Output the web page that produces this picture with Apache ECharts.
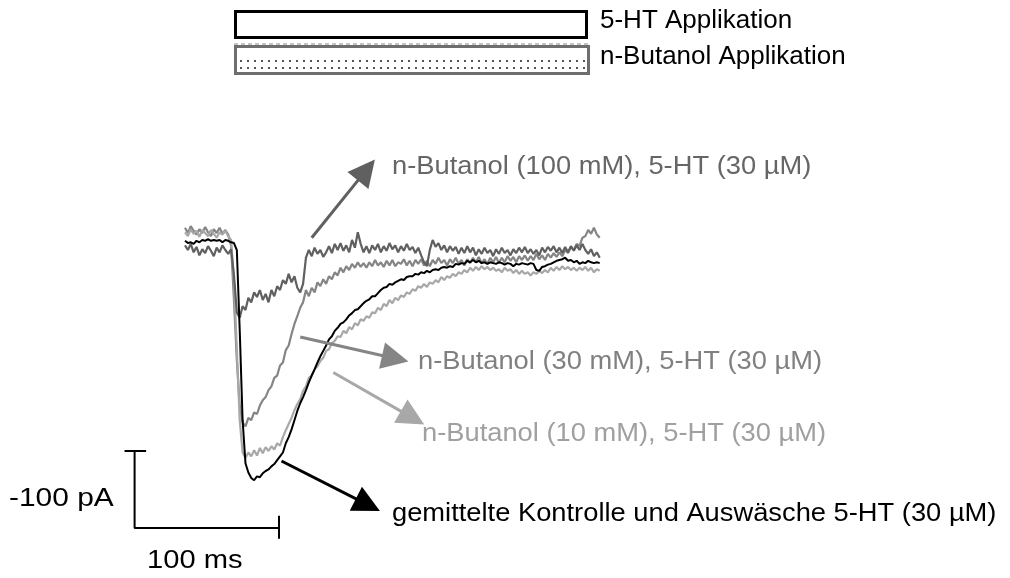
<!DOCTYPE html>
<html>
<head>
<meta charset="utf-8">
<script src="https://cdn.jsdelivr.net/npm/echarts@6/dist/echarts.min.js"></script>
<style>
  html, body { margin: 0; padding: 0; background: #fff; }
  #chart { width: 1010px; height: 578px; }
</style>
</head>
<body>
<div id="chart"></div>
<script>
// sample spacing of the traces (ms)
var timeStep = 2

// current traces in pA, one value every 2 ms
var control = [-1, -4, -3, -5, -1, -3, 0, -1, 1, -1, 0, -1, 0, -3, 0, -1, -3, -4, -13, -117,
  -234, -290, -302, -309, -312, -307, -308, -303, -300, -298, -294, -291, -286, -281, -276, -264, -256, -246, -234, -222,
  -212, -204, -195, -185, -176, -168, -159, -151, -144, -137, -129, -125, -118, -114, -109, -107, -103, -98, -95, -91,
  -90, -86, -82, -79, -77, -73, -73, -69, -65, -62, -61, -57, -58, -55, -53, -51, -52, -48, -47, -47,
  -44, -45, -42, -43, -40, -42, -39, -38, -39, -36, -35, -36, -34, -35, -31, -32, -30, -31, -27, -29,
  -26, -29, -27, -30, -29, -31, -29, -30, -31, -29, -30, -32, -30, -31, -34, -31, -32, -30, -31, -32,
  -30, -31, -39, -40, -35, -34, -32, -31, -29, -27, -26, -25, -23, -27, -26, -29, -27, -31, -29, -30,
  -27, -29, -30, -29, -30]

var butanol10 = [10, 5, 14, 8, 12, 4, 13, 9, 5, 13, 8, 3, 10, 7, 12, 5, 0, -52, -143, -234,
  -276, -283, -276, -281, -273, -280, -270, -277, -269, -274, -268, -272, -264, -267, -256, -247, -239, -231, -221, -213,
  -207, -196, -190, -179, -176, -168, -164, -157, -153, -144, -142, -134, -131, -125, -126, -118, -121, -113, -116, -108,
  -111, -103, -105, -99, -101, -94, -95, -88, -91, -83, -86, -78, -82, -75, -78, -72, -74, -68, -70, -64,
  -66, -60, -62, -57, -61, -55, -57, -52, -55, -48, -52, -47, -49, -44, -47, -42, -44, -39, -42, -36,
  -40, -35, -39, -34, -38, -35, -39, -36, -40, -38, -42, -36, -40, -38, -43, -39, -44, -40, -44, -42,
  -46, -42, -44, -40, -43, -39, -42, -36, -40, -35, -39, -34, -38, -35, -39, -36, -40, -36, -39, -35,
  -40, -36, -42, -38, -40]

var butanol30 = [16, 9, 18, 12, 7, 14, 9, 17, 10, 5, 14, 9, 16, 8, 13, 7, -7, -78, -156, -215,
  -237, -242, -231, -234, -224, -226, -215, -208, -204, -195, -190, -179, -176, -163, -159, -143, -137, -122, -109, -99,
  -88, -81, -65, -73, -62, -68, -55, -60, -51, -57, -47, -51, -42, -46, -36, -42, -34, -39, -31, -36,
  -29, -35, -30, -36, -29, -34, -26, -33, -29, -35, -27, -33, -26, -34, -29, -31, -25, -33, -27, -34,
  -26, -31, -25, -33, -27, -34, -26, -31, -23, -30, -26, -33, -25, -30, -23, -31, -26, -33, -25, -30,
  -23, -29, -22, -30, -25, -31, -23, -29, -22, -30, -23, -29, -21, -27, -22, -29, -21, -26, -20, -27,
  -21, -26, -18, -25, -20, -26, -18, -23, -17, -22, -16, -21, -13, -17, -9, -13, -5, -8, 3, 5,
  13, 8, 16, 7, 3]

var butanol100 = [-7, -13, -5, -16, -9, -20, -12, -17, -8, -14, -21, -10, -16, -7, -13, -18, -12, -46, -94, -101,
  -86, -91, -75, -81, -68, -74, -65, -78, -70, -81, -65, -73, -60, -65, -52, -57, -44, -55, -47, -62,
  -68, -57, -23, -13, -21, -10, -18, -13, -22, -16, -8, -17, -5, -13, -4, -14, -7, -16, 0, -10,
  10, -5, -16, -8, -17, -7, -13, -5, -16, -8, -14, -4, -12, -7, -16, -8, -14, -5, -13, -9,
  -17, -10, -20, -29, -34, -13, 0, -9, -4, -13, -7, -16, -8, -14, -9, -18, -10, -17, -8, -16,
  -10, -20, -12, -18, -10, -17, -13, -21, -12, -18, -10, -17, -13, -20, -12, -17, -10, -16, -9, -17,
  -12, -18, -13, -20, -10, -16, -9, -14, -8, -16, -10, -17, -9, -16, -8, -14, -7, -13, -5, -13,
  -18, -12, -21, -16, -23]

// scale bar: 100 ms x 100 pA, corner at [-35 ms, -374 pA]
var scaleBarMs = 100
var scaleBarPa = 100
var scaleCorner = [-35, -374]

// annotation arrows [from, to] in ms / pA
var arrow100 = [[88, 3], [126, 91]]
var arrow30 = [[80, -126], [146, -154]]
var arrow10 = [[103, -172], [158, -231]]
var arrowControl = [[67, -287], [127, -344]]

// page scale: px per ms and px per pA, trace origin in px
var pxPerMs = 1.44
var pxPerPa = 0.77
var originX = 185
var originY = 240

function toPairs(values) {
  return values.map(function (v, i) { return [i * timeStep, v] })
}

var chart = echarts.init(document.getElementById('chart'))

function trace(name, values, color, width) {
  return {
    name: name,
    type: 'line',
    data: toPairs(values),
    showSymbol: false,
    symbol: 'none',
    lineStyle: { color: color, width: width },
    z: 3
  }
}

function arrow(coords, color) {
  return {
    type: 'lines',
    coordinateSystem: 'cartesian2d',
    symbol: ['none', 'triangle'],
    symbolSize: [21, 27],
    lineStyle: { color: color, width: 3, opacity: 1 },
    itemStyle: { color: color },
    data: [{ coords: coords }],
    z: 4
  }
}

var c = scaleCorner
var labelFont = '26px "Liberation Sans", Arial, sans-serif'

chart.setOption({
  animation: false,
  backgroundColor: '#fff',
  grid: { left: 0, right: 0, top: 0, bottom: 0 },
  xAxis: {
    type: 'value',
    show: false,
    min: -originX / pxPerMs,
    max: (1010 - originX) / pxPerMs
  },
  yAxis: {
    type: 'value',
    show: false,
    min: -(578 - originY) / pxPerPa,
    max: originY / pxPerPa
  },
  series: [
    trace('n-Butanol (30 mM)', butanol30, '#858585', 2.2),
    trace('n-Butanol (10 mM)', butanol10, '#a8a8a8', 2.2),
    trace('n-Butanol (100 mM)', butanol100, '#606060', 2.2),
    trace('Kontrolle', control, '#000', 2),
    {
      type: 'line',
      data: [[c[0], c[1] + scaleBarPa], c, [c[0] + scaleBarMs, c[1]]],
      showSymbol: false,
      symbol: 'none',
      lineStyle: { color: '#000', width: 2 }
    },
    {
      type: 'lines',
      coordinateSystem: 'cartesian2d',
      lineStyle: { color: '#000', width: 2, opacity: 1 },
      data: [
        { coords: [[c[0] - 7, c[1] + scaleBarPa], [c[0] + 8, c[1] + scaleBarPa]] },
        { coords: [[c[0] + scaleBarMs, c[1] + 16], [c[0] + scaleBarMs, c[1] - 14]] }
      ]
    },
    arrow(arrow100, '#606060'),
    arrow(arrow30, '#858585'),
    arrow(arrow10, '#a8a8a8'),
    arrow(arrowControl, '#000')
  ],
  graphic: [
    // application bars
    { type: 'rect', shape: { x: 235.5, y: 11.5, width: 351, height: 26 },
      style: { fill: '#fff', stroke: '#000', lineWidth: 3 } },
    { type: 'line', shape: { x1: 234, y1: 44, x2: 589, y2: 44 },
      style: { stroke: '#b0b0b0', lineWidth: 1.5, lineDash: [4, 3] } },
    { type: 'rect', shape: { x: 235.5, y: 46.5, width: 353, height: 27 },
      style: { fill: '#fff', stroke: '#6e6e6e', lineWidth: 3 } },
    { type: 'line', shape: { x1: 240, y1: 61, x2: 585, y2: 61 },
      style: { stroke: '#555', lineWidth: 2, lineDash: [2, 5] } },
    { type: 'line', shape: { x1: 240, y1: 68, x2: 585, y2: 68 },
      style: { stroke: '#555', lineWidth: 2, lineDash: [2, 5] } },
    { type: 'text', x: 600, y: 21, scaleX: 1.04,
      style: { text: '5-HT Applikation', font: '25px "Liberation Sans", Arial, sans-serif', fill: '#000', verticalAlign: 'middle' } },
    { type: 'text', x: 600, y: 57, scaleX: 1.04,
      style: { text: 'n-Butanol Applikation', font: '25px "Liberation Sans", Arial, sans-serif', fill: '#000', verticalAlign: 'middle' } },
    // trace labels
    { type: 'text', x: 392, y: 167, scaleX: 1.05,
      style: { text: 'n-Butanol (100 mM), 5-HT (30 µM)', font: labelFont, fill: '#666', verticalAlign: 'middle' } },
    { type: 'text', x: 418, y: 362, scaleX: 1.05,
      style: { text: 'n-Butanol (30 mM), 5-HT (30 µM)', font: labelFont, fill: '#808080', verticalAlign: 'middle' } },
    { type: 'text', x: 422, y: 434, scaleX: 1.05,
      style: { text: 'n-Butanol (10 mM), 5-HT (30 µM)', font: labelFont, fill: '#a0a0a0', verticalAlign: 'middle' } },
    { type: 'text', x: 392, y: 514, scaleX: 1.05,
      style: { text: 'gemittelte Kontrolle und Auswäsche 5-HT (30 µM)', font: labelFont, fill: '#000', verticalAlign: 'middle' } },
    // scale bar labels
    { type: 'text', x: 9, y: 499, scaleX: 1.15,
      style: { text: '-100 pA', font: labelFont, fill: '#000', verticalAlign: 'middle' } },
    { type: 'text', x: 147, y: 561, scaleX: 1.12,
      style: { text: '100 ms', font: labelFont, fill: '#000', verticalAlign: 'middle' } }
  ]
})
</script>
</body>
</html>
